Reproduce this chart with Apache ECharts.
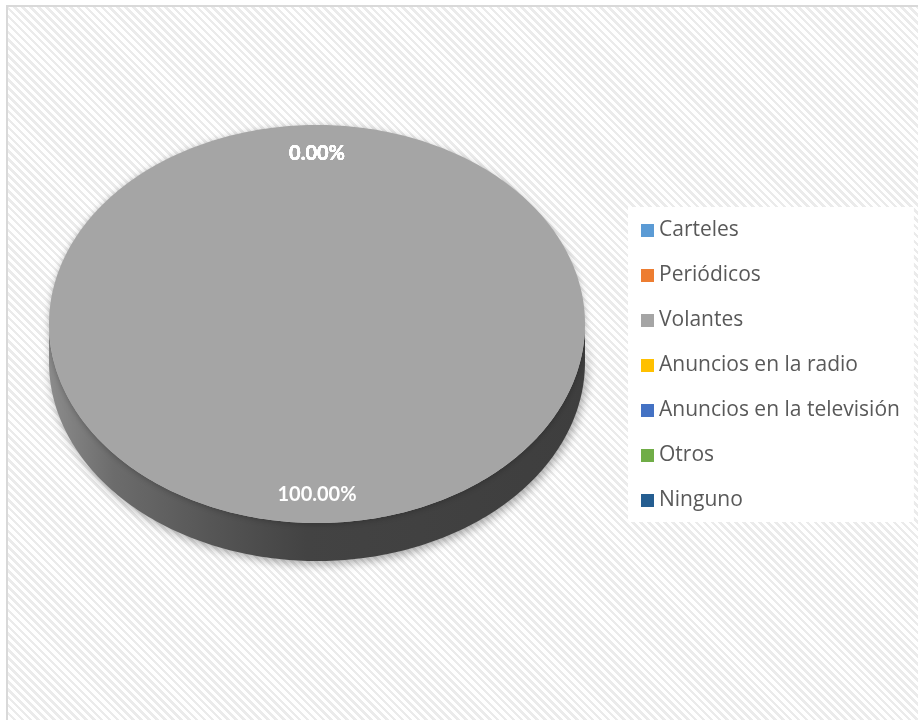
<!DOCTYPE html>
<html>
<head>
<meta charset="utf-8">
<script src="https://cdn.jsdelivr.net/npm/echarts@6/dist/echarts.min.js"></script>
<style>
  html, body { margin: 0; padding: 0; background: #ffffff; }
  #frame {
    position: absolute; left: 6px; top: 5px; width: 920px; height: 720px;
    border-left: 2px solid #d9d9d9; border-top: 2px solid #d9d9d9;
    background: repeating-linear-gradient(45deg, #ffffff 0px, #ffffff 3px, #ebebeb 3px, #ebebeb 5.6px);
  }
  #chart { position: absolute; left: 0; top: 0; width: 918px; height: 720px; }
</style>
</head>
<body>
<div id="frame"></div>
<div id="chart"></div>
<script>
// Media through which respondents heard about the event (share, %)
const categories = ['Carteles', 'Periódicos', 'Volantes', 'Anuncios en la radio', 'Anuncios en la televisión', 'Otros', 'Ninguno'];
const shares = [0, 0, 100, 0, 0, 0, 0];
const colors = ['#5b9bd5', '#ed7d31', '#a5a5a5', '#ffc000', '#4472c4', '#70ad47', '#255e91'];

// cumulative start/end fractions, clockwise from 12 o'clock
const total = shares.reduce((a, b) => a + b, 0);
const starts = [];
const ends = [];
let acc = 0;
shares.forEach(v => { starts.push(acc / total); acc += v; ends.push(acc / total); });

// tilted-disc geometry
const CX = 317, CY = 324, RX = 268, RY = 199, DEPTH = 38;

function pt(theta, dy) {
  return [CX + RX * Math.sin(theta), CY - RY * Math.cos(theta) + (dy || 0)];
}
function arc(a0, a1, dy) {
  const pts = [];
  const n = Math.max(2, Math.ceil(Math.abs(a1 - a0) / (Math.PI / 180)));
  for (let k = 0; k <= n; k++) pts.push(pt(a0 + (a1 - a0) * k / n, dy));
  return pts;
}

const sideGradient = new echarts.graphic.LinearGradient(CX - RX, 0, CX + RX, 0, [
  { offset: 0, color: '#8c8c8c' },
  { offset: 0.12, color: '#6c6c6c' },
  { offset: 0.3, color: '#565656' },
  { offset: 0.48, color: '#434343' },
  { offset: 1, color: '#3e3e3e' }
], true);

function makeRender(idx) {
  return function (params, api) {
    const value = api.value(0);
    const a0 = starts[idx] * 2 * Math.PI;
    const a1 = ends[idx] * 2 * Math.PI;
    const children = [];
    if (a1 > a0) {
      // visible front wall: part of the slice between 3 and 9 o'clock (lower half)
      const s = Math.max(a0, Math.PI / 2);
      const e = Math.min(a1, 3 * Math.PI / 2);
      if (e > s) {
        const pts = arc(s, e, 0).concat(arc(e, s, DEPTH));
        children.push({
          type: 'polygon', z2: 1,
          shape: { points: pts },
          style: {
            fill: sideGradient,
            shadowBlur: 10, shadowOffsetX: 2, shadowOffsetY: 3,
            shadowColor: 'rgba(0,0,0,0.35)'
          }
        });
      }
      const full = (a1 - a0) >= 2 * Math.PI - 1e-9;
      const topPts = full ? arc(a0, a1, 0) : [[CX, CY]].concat(arc(a0, a1, 0));
      children.push({
        type: 'polygon', z2: 5,
        shape: { points: topPts },
        style: {
          fill: api.visual('color'),
          shadowBlur: 6, shadowOffsetX: 0, shadowOffsetY: 1,
          shadowColor: 'rgba(0,0,0,0.25)'
        }
      });
    }
    const mid = (a0 + a1) / 2;
    const lp = [CX + RX * 0.86 * Math.sin(mid), CY - RY * 0.855 * Math.cos(mid)];
    children.push({
      type: 'text', z2: 20,
      style: {
        text: (value / total * 100).toFixed(2) + '%',
        x: lp[0], y: lp[1],
        align: 'center', verticalAlign: 'middle',
        fill: '#ffffff',
        font: 'bold 20px Lato'
      }
    });
    return { type: 'group', children: children };
  };
}

const chart = echarts.init(document.getElementById('chart'), null, { renderer: 'canvas' });
chart.setOption({
  animation: false,
  color: colors,
  legend: {
    orient: 'vertical',
    left: 628, top: 207,
    padding: [13, 14, 11, 13],
    itemWidth: 13, itemHeight: 13, itemGap: 24,
    icon: 'rect',
    backgroundColor: '#ffffff',
    selectedMode: false,
    textStyle: { color: '#595959', fontSize: 21, fontFamily: 'Open Sans' },
    data: categories
  },
  series: categories.map((name, i) => ({
    type: 'custom',
    name: name,
    coordinateSystem: 'none',
    itemStyle: { color: colors[i] },
    renderItem: makeRender(i),
    data: [[shares[i]]]
  }))
});
</script>
</body>
</html>
